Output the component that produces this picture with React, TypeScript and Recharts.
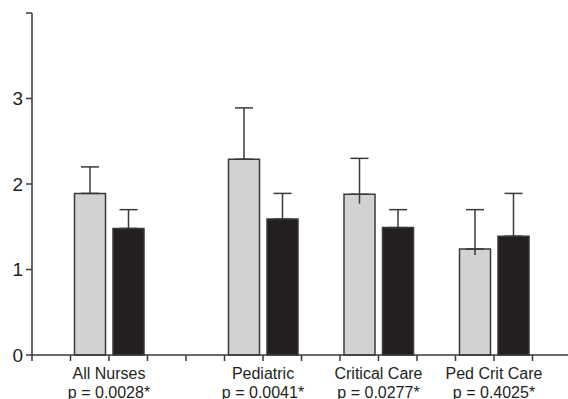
import { Bar, BarChart, Cell, ErrorBar, XAxis, YAxis } from "recharts";

const categories = ["All Nurses", "Pediatric", "Critical Care", "Ped Crit Care"];
const pLabels = ["p = 0.0028*", "p = 0.0041*", "p = 0.0277*", "p = 0.4025*"];
const greyMeans = [1.89, 2.29, 1.88, 1.24];
const greyErrUp = [0.31, 0.6, 0.42, 0.46];
const greyErrDown = [0, 0, 0.11, 0.07];
const blackMeans = [1.48, 1.59, 1.49, 1.39];
const blackErrUp = [0.22, 0.3, 0.21, 0.5];
// empty slots on the x axis ahead of each pair of bars, and after the last
const slotsBefore = [1, 2, 1, 1];
const slotsAfter = 1;
const yTicks = [0, 1, 2, 3, 4];

const INK = "#231f20";
const LINE = "#3a3a3a";
const GREY = "#d1d2d4";

type Slot = {
  id: string;
  value?: number;
  kind?: "grey" | "black";
  errHi?: [number, number];
  errLo?: [number, number];
  label?: string;
  p?: string;
};

const slots: Slot[] = [];
categories.forEach((name, i) => {
  for (let k = 0; k < slotsBefore[i]; k++) slots.push({ id: `gap-${i}-${k}` });
  slots.push({
    id: `${name}-grey`,
    value: greyMeans[i],
    kind: "grey",
    errHi: [0, greyErrUp[i]],
    errLo: greyErrDown[i] > 0 ? [greyErrDown[i], 0] : undefined,
  });
  slots.push({
    id: `${name}-black`,
    value: blackMeans[i],
    kind: "black",
    errHi: [0, blackErrUp[i]],
    label: name,
    p: pLabels[i],
  });
});
for (let k = 0; k < slotsAfter; k++) slots.push({ id: `gap-end-${k}` });

// tick marks sit on slot boundaries; group labels sit between the two bars
function SlotTick(props: any) {
  const { x, y, payload, index } = props;
  const off = payload?.offset ?? 19.25;
  const row = slots[index];
  const bx = x - off;
  return (
    <g>
      <line x1={bx} x2={bx} y1={y} y2={y + 6} stroke={LINE} strokeWidth={1.5} />
      {row?.label && (
        <text x={bx} y={y + 24} textAnchor="middle" fontSize={16} fill={INK}>
          <tspan x={bx}>{row.label}</tspan>
          <tspan x={bx} dy={18.5}>
            {row.p}
          </tspan>
        </text>
      )}
    </g>
  );
}

export default function App() {
  return (
    <div
      style={{
        position: "absolute",
        left: 0,
        top: 0,
        width: 568,
        height: 399,
        overflow: "hidden",
        background: "#fff",
        fontFamily: "'Liberation Sans', Arial, sans-serif",
      }}
    >
      <BarChart
        width={571}
        height={399}
        data={slots}
        margin={{ top: 13, right: 0, bottom: 0, left: 0 }}
        barSize={31}
      >
        <XAxis
          dataKey="id"
          height={44}
          interval={0}
          tickLine={false}
          tickSize={0}
          tickMargin={0}
          axisLine={{ stroke: LINE, strokeWidth: 1.5 }}
          tick={<SlotTick />}
        />
        <YAxis
          type="number"
          domain={[0, 4]}
          ticks={yTicks}
          width={32}
          tickSize={6}
          tickMargin={3}
          axisLine={{ stroke: LINE, strokeWidth: 1.5 }}
          tickLine={{ stroke: LINE, strokeWidth: 1.5 }}
          tick={{ fontSize: 19, fill: INK }}
          tickFormatter={(v) => (v === 4 ? "" : String(v))}
        />
        <Bar dataKey="value" isAnimationActive={false}>
          {slots.map((s) => (
            <Cell
              key={s.id}
              fill={s.kind === "black" ? INK : GREY}
              stroke={LINE}
              strokeWidth={1.5}
            />
          ))}
          <ErrorBar
            dataKey="errHi"
            width={9}
            stroke={LINE}
            strokeWidth={1.5}
            isAnimationActive={false}
          />
          <ErrorBar
            dataKey="errLo"
            width={0}
            stroke={LINE}
            strokeWidth={1.5}
            isAnimationActive={false}
          />
        </Bar>
      </BarChart>
    </div>
  );
}
